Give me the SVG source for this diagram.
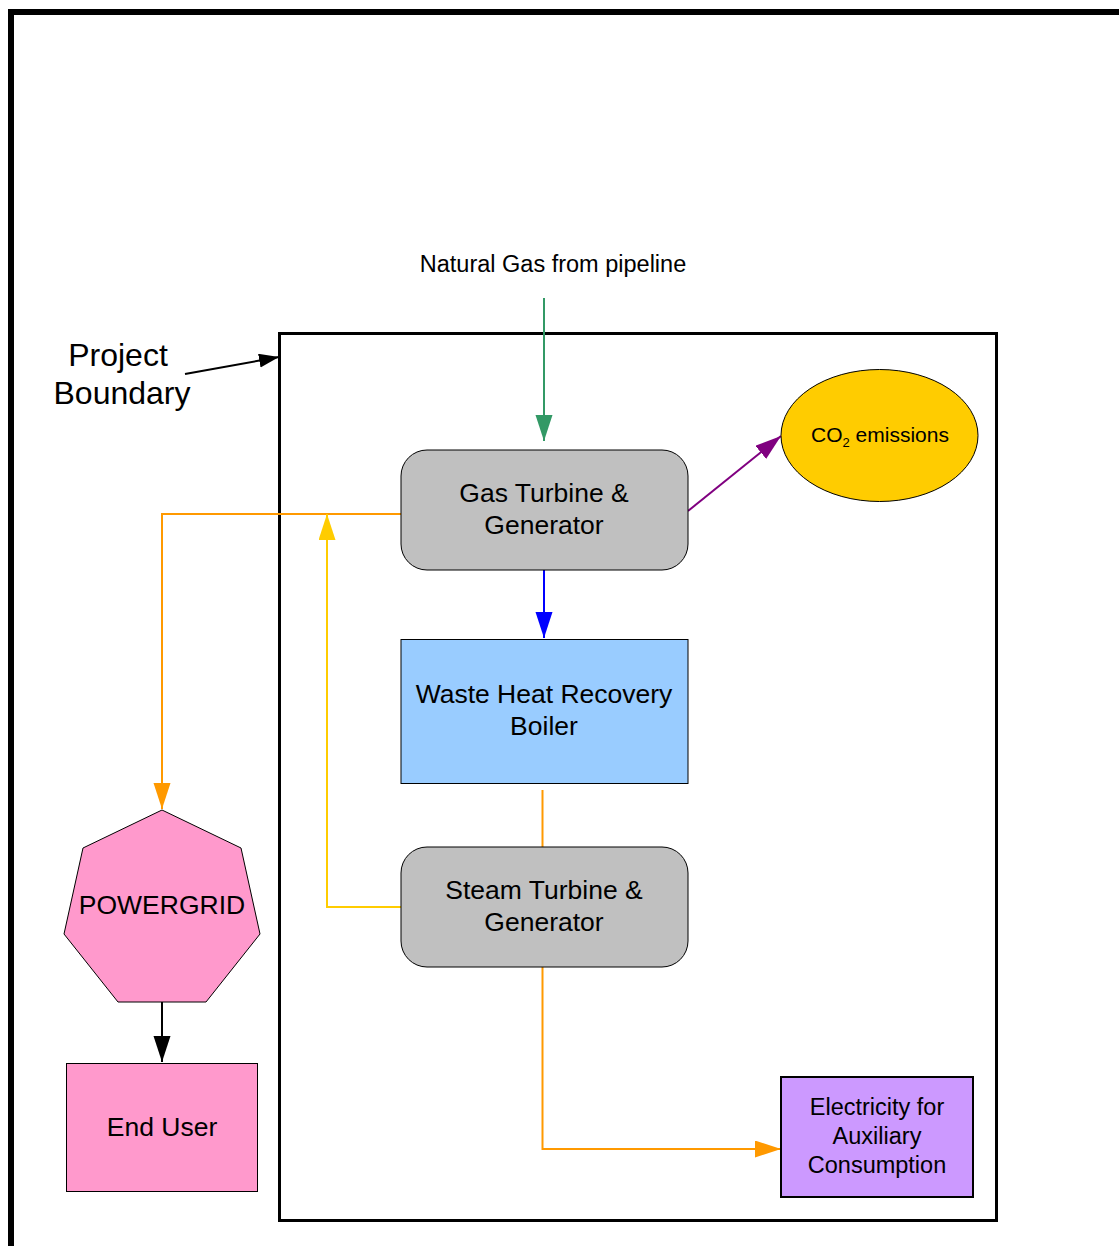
<svg xmlns="http://www.w3.org/2000/svg" width="1119" height="1246" viewBox="0 0 1119 1246">
<style>
text{font-family:"Liberation Sans",Arial,sans-serif;fill:#000;text-anchor:middle}
.n{font-size:26.5px}
.node{stroke:#000;stroke-width:1}
.c{fill:none;stroke-width:2}
</style>
<defs>
<marker id="aGreen" markerUnits="userSpaceOnUse" markerWidth="28" markerHeight="18" refX="26" refY="8.5" orient="auto"><path d="M0,0 L26,8.5 L0,17 z" fill="#339966"/></marker>
<marker id="aBlue" markerUnits="userSpaceOnUse" markerWidth="28" markerHeight="18" refX="26" refY="8.5" orient="auto"><path d="M0,0 L26,8.5 L0,17 z" fill="#0000FF"/></marker>
<marker id="aPurple" markerUnits="userSpaceOnUse" markerWidth="28" markerHeight="18" refX="26" refY="8.5" orient="auto"><path d="M0,0 L26,8.5 L0,17 z" fill="#800080"/></marker>
<marker id="aOrange" markerUnits="userSpaceOnUse" markerWidth="28" markerHeight="18" refX="26" refY="8.5" orient="auto"><path d="M0,0 L26,8.5 L0,17 z" fill="#FF9900"/></marker>
<marker id="aYellow" markerUnits="userSpaceOnUse" markerWidth="28" markerHeight="18" refX="26" refY="8.5" orient="auto"><path d="M0,0 L26,8.5 L0,17 z" fill="#FFCC00"/></marker>
<marker id="aBlack" markerUnits="userSpaceOnUse" markerWidth="28" markerHeight="18" refX="26" refY="8.5" orient="auto"><path d="M0,0 L26,8.5 L0,17 z" fill="#000"/></marker>
<marker id="aSmall" markerUnits="userSpaceOnUse" markerWidth="22" markerHeight="16" refX="20" refY="7" orient="auto"><path d="M0,0 L20,7 L0,14 z" fill="#000"/></marker>
</defs>
<rect width="1119" height="1246" fill="#fff"/>
<path d="M11,1260 L11,12 L1130,12" fill="none" stroke="#000" stroke-width="6"/>
<g id="boundary">
<rect x="279.5" y="333.5" width="717" height="887" fill="none" stroke="#000" stroke-width="3"/>
<text x="118" y="366" style="font-size:32px">Project</text>
<text x="122" y="404" style="font-size:32px">Boundary</text>
</g>
<g id="connectors">
<line class="c" x1="185" y1="374" x2="279" y2="357" stroke="#000" marker-end="url(#aSmall)"/>
<line class="c" x1="544" y1="298" x2="544" y2="441" stroke="#339966" marker-end="url(#aGreen)"/>
<line class="c" x1="544" y1="570" x2="544" y2="638" stroke="#0000FF" marker-end="url(#aBlue)"/>
<line class="c" x1="688" y1="511" x2="781" y2="436" stroke="#800080" marker-end="url(#aPurple)"/>
<polyline class="c" points="401,514 162,514 162,809" stroke="#FF9900" marker-end="url(#aOrange)"/>
<polyline class="c" points="401,907 327,907 327,514" stroke="#FFCC00" marker-end="url(#aYellow)"/>
<line class="c" x1="542.5" y1="790" x2="542.5" y2="847" stroke="#FF9900"/>
<polyline class="c" points="542.5,967 542.5,1149 781,1149" stroke="#FF9900" marker-end="url(#aOrange)"/>
<line class="c" x1="162" y1="1002" x2="162" y2="1062" stroke="#000" marker-end="url(#aBlack)"/>
</g>
<g id="natural-gas"><text x="553" y="272" style="font-size:23.5px">Natural Gas from pipeline</text></g>
<g id="gas-turbine">
<rect class="node" x="401" y="450" width="287" height="120" rx="26" fill="#C0C0C0"/>
<text class="n" x="544" y="502">Gas Turbine &amp;</text>
<text class="n" x="544" y="534">Generator</text>
</g>
<g id="co2">
<ellipse class="node" cx="879.5" cy="435.5" rx="98.5" ry="66" fill="#FFCC00"/>
<text x="880" y="442" style="font-size:21px">CO<tspan dy="5" style="font-size:13px">2</tspan><tspan dy="-5"> emissions</tspan></text>
</g>
<g id="whrb">
<rect class="node" x="401" y="639.5" width="287" height="144" fill="#99CCFF"/>
<text class="n" x="544" y="703">Waste Heat Recovery</text>
<text class="n" x="544" y="735">Boiler</text>
</g>
<g id="steam-turbine">
<rect class="node" x="401" y="847" width="287" height="120" rx="26" fill="#C0C0C0"/>
<text class="n" x="544" y="899">Steam Turbine &amp;</text>
<text class="n" x="544" y="931">Generator</text>
</g>
<g id="powergrid">
<polygon class="node" points="162,810 241,848 260,934 206,1002 118,1002 64,934 83,848" fill="#FF99CC"/>
<text class="n" x="162" y="914">POWERGRID</text>
</g>
<g id="end-user">
<rect class="node" x="66.5" y="1063.5" width="191" height="128" fill="#FF99CC"/>
<text class="n" x="162" y="1136">End User</text>
</g>
<g id="aux">
<rect x="781" y="1077" width="192" height="120" fill="#CC99FF" stroke="#000" stroke-width="2"/>
<text x="877" y="1115" style="font-size:23.5px">Electricity for</text>
<text x="877" y="1144" style="font-size:23.5px">Auxiliary</text>
<text x="877" y="1173" style="font-size:23.5px">Consumption</text>
</g>
</svg>
